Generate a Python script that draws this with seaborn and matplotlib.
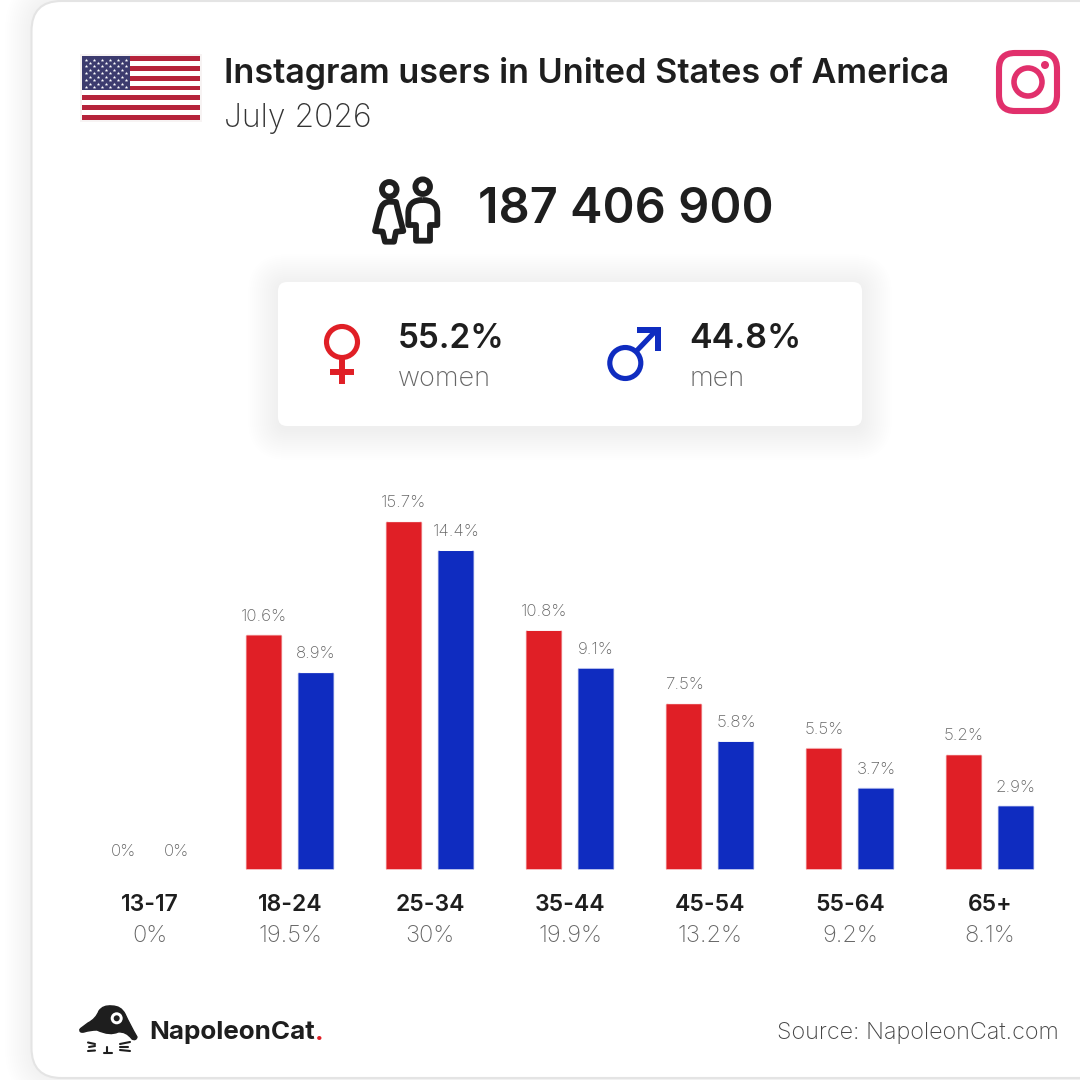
# Instagram users in the US, age and gender split
import matplotlib
matplotlib.use("Agg")
import pandas as pd
import seaborn as sns
import matplotlib.pyplot as plt
from matplotlib.patches import Circle, FancyBboxPatch, PathPatch, Polygon, Rectangle
from matplotlib.path import Path

# data
ages = ["13-17", "18-24", "25-34", "35-44", "45-54", "55-64", "65+"]
women = [0, 10.6, 15.7, 10.8, 7.5, 5.5, 5.2]
men = [0, 8.9, 14.4, 9.1, 5.8, 3.7, 2.9]
totals = ["0%", "19.5%", "30%", "19.9%", "13.2%", "9.2%", "8.1%"]
women_labels = ["0%", "10.6%", "15.7%", "10.8%", "7.5%", "5.5%", "5.2%"]
men_labels = ["0%", "8.9%", "14.4%", "9.1%", "5.8%", "3.7%", "2.9%"]
title = "Instagram users in United States of America"
date = "July 2026"
users = "187 406 900"
women_share = "55.2%"
men_share = "44.8%"

RED = "#e01f26"
BLUE = "#0f2cc0"
PINK = "#e1306c"
DARK = "#1e1e1e"
GREY = "#666666"
FONT = "Inter"

sns.set_theme(style="white")
plt.rcParams["font.family"] = [FONT, "DejaVu Sans"]

fig = plt.figure(figsize=(10.8, 10.8), dpi=100, facecolor="white")

# overlay in pixel coordinates for everything around the chart
ov = fig.add_axes([0, 0, 1, 1], zorder=0)
ov.set_xlim(0, 1080)
ov.set_ylim(1080, 0)
ov.axis("off")


def rbox(x0, y0, x1, y1, r, **kw):
    return FancyBboxPatch((x0 + r, y0 + r), x1 - x0 - 2 * r, y1 - y0 - 2 * r,
                          boxstyle="round,pad=%f,rounding_size=%f" % (r, r), **kw)


# outer card with a soft shadow on the left
for i in range(14):
    ov.add_patch(rbox(31 - i * 2, 1 - i * 2, 1300, 1078 + i * 2, 30 + i * 2,
                      fc="black", ec="none", alpha=0.0032, zorder=0))
ov.add_patch(rbox(31.5, 1, 1300, 1078, 30, fc="white", ec="#e4e4e4", lw=1.5, zorder=1))

# gender box with shadow
for i in range(16):
    ov.add_patch(rbox(278 - i * 2, 284 - i * 2, 862 + i * 2, 430 + i * 2, 10 + i * 2,
                      fc="black", ec="none", alpha=0.002, zorder=2))
ov.add_patch(rbox(278, 282, 862, 426, 9, fc="white", ec="none", zorder=3))

# flag
ov.add_patch(Rectangle((80, 54), 122, 68, fc="#f7f3f3", ec="none", zorder=3))
stripe = 64 / 13
for i in range(13):
    color = "#b5233b" if i % 2 == 0 else "white"
    ov.add_patch(Rectangle((82, 56 + i * stripe), 118, stripe, fc=color, ec="none", zorder=4))
ov.add_patch(Rectangle((82, 56), 48, stripe * 7, fc="#3c3b6e", ec="none", zorder=5))
for row in range(9):
    n = 6 if row % 2 == 0 else 5
    off = 86 if row % 2 == 0 else 90
    ov.scatter([off + c * 8 for c in range(n)], [59.5 + row * 3.45] * n, s=7,
               marker="*", c="white", linewidths=0, zorder=6)

# header text
ov.text(224, 74, title, fontsize=24.6, fontweight="semibold", color=DARK, va="center", ha="left", zorder=7)
ov.text(224, 118.5, date, fontsize=23, fontweight="light", color="#333333", va="center", ha="left", zorder=7)

# instagram icon
ov.add_patch(rbox(999, 53, 1057, 111, 16, fc="none", ec=PINK, lw=4.4, zorder=7))
ov.add_patch(Circle((1028, 82), 14, fc="none", ec=PINK, lw=4, zorder=7))
ov.add_patch(Circle((1045, 65), 4, fc=PINK, ec="none", zorder=7))

# people icon
ink = dict(fc="none", ec=DARK, lw=4.2, zorder=7, joinstyle="round")
ov.add_patch(Circle((389.3, 189.3), 7.3, **ink))
ov.add_patch(Circle((422.7, 186.7), 7.3, **ink))
m, c3, l2 = Path.MOVETO, Path.CURVE3, Path.LINETO
ov.add_patch(PathPatch(Path(
    [(389.3, 201.7), (382, 202), (380, 211), (375, 231), (382.7, 231.7), (385, 241.7), (394, 241.7),
     (396, 231.7), (403.3, 231), (398, 211), (396, 202), (389.3, 201.7)],
    [m, c3, c3, l2, l2, l2, l2, l2, l2, c3, c3, Path.CLOSEPOLY]), **ink))
ov.add_patch(PathPatch(Path(
    [(422.7, 200), (408.3, 200), (408.3, 213), (408.3, 225), (416, 225), (416, 240.7), (430, 240.7),
     (430, 225), (437.3, 225), (437.3, 213), (437.3, 200), (422.7, 200)],
    [m, c3, c3, l2, l2, l2, l2, l2, l2, l2, c3, c3]), **ink))
ov.text(478, 210, users, fontsize=35, fontweight="semibold", color=DARK, va="center", ha="left", zorder=7)

# gender symbols
ov.add_patch(Circle((342, 342), 15.5, fc="none", ec=RED, lw=3.7, zorder=7))
ov.plot([342, 342], [359, 384], color=RED, lw=4.3, solid_capstyle="butt", zorder=7)
ov.plot([330, 354], [371.7, 371.7], color=RED, lw=4.3, solid_capstyle="butt", zorder=7)
ov.add_patch(Circle((625.3, 363), 15.5, fc="none", ec=BLUE, lw=3.7, zorder=7))
ov.plot([636.5, 657], [351, 329.5], color=BLUE, lw=3.7, solid_capstyle="butt", zorder=7)
ov.add_patch(Polygon([(637.3, 326.7), (661.4, 326.7), (661.4, 350.7), (655.2, 350.7),
                      (655.2, 332.7), (637.3, 332.7)], fc=BLUE, ec="none", zorder=7))

ov.text(398, 338.5, women_share, fontsize=24, fontweight="semibold", color=DARK, va="center", ha="left", zorder=7)
ov.text(398, 379, "women", fontsize=19.5, fontweight="light", color=GREY, va="center", ha="left", zorder=7)
ov.text(689, 338.5, men_share, fontsize=24.5, fontweight="semibold", color=DARK, va="center", ha="left", zorder=7)
ov.text(690, 379, "men", fontsize=19.5, fontweight="light", color=GREY, va="center", ha="left", zorder=7)

# logo
cat = Path([(80, 1029), (88, 1023), (96, 1019), (99, 1011), (103, 1005), (112, 1006),
            (121, 1006), (125, 1014), (130, 1025), (137, 1037), (136, 1041), (132, 1039),
            (126, 1031), (118, 1032), (110, 1036), (97, 1030), (90, 1030), (84, 1032),
            (79, 1033), (80, 1029)],
           [m, l2] + [c3] * 18)
ov.add_patch(PathPatch(cat, fc=DARK, ec=DARK, lw=1, joinstyle="round", zorder=7))
ov.add_patch(Circle((116.7, 1018.3), 6, fc="white", ec="none", zorder=8))
ov.add_patch(Circle((116.7, 1018.3), 3, fc=DARK, ec="none", zorder=9))
for a, b in [((88, 1042.5), (95, 1044)), ((89, 1047), (95, 1046)), ((88, 1051), (95, 1050.5)),
             ((120, 1044), (130, 1042)), ((120, 1047), (128, 1047)), ((120, 1050), (130, 1051)),
             ((107.3, 1047), (107.3, 1052)), ((103.5, 1052.5), (111.5, 1052.5))]:
    ov.plot([a[0], b[0]], [a[1], b[1]], color=DARK, lw=1.5, solid_capstyle="round", zorder=7)
logo = ov.text(149.5, 1033, "NapoleonCat", fontsize=18.7, fontweight="bold", color=DARK, va="center", ha="left", zorder=7)
fig.canvas.draw()
end = logo.get_window_extent().x1
ov.text(end, 1033, ".", fontsize=18.7, fontweight="bold", color=RED, va="center", ha="left", zorder=7)
ov.text(1059, 1033.5, "Source: NapoleonCat.com", fontsize=16.8, fontweight="light", color="#444444",
        va="center", ha="right", zorder=7)

# bars
df = pd.DataFrame({
    "age": ages * 2,
    "share": women + men,
    "gender": ["women"] * len(ages) + ["men"] * len(ages),
})
px_per_unit = 22.2
ymax = 16
ax = fig.add_axes([80 / 1080, (1080 - 870) / 1080, 980 / 1080, ymax * px_per_unit / 1080], zorder=10)
sns.barplot(data=df, x="age", y="share", hue="gender", palette={"women": RED, "men": BLUE},
            width=0.743, gap=0.295, saturation=1, legend=False, ax=ax)
ax.set_xlim(-0.5, 6.5)
ax.set_ylim(0, ymax)
ax.patch.set_alpha(0)
sns.despine(ax=ax, left=True, bottom=True)
ax.set_yticks([])
ax.set_xlabel("")
ax.set_ylabel("")
ax.tick_params(axis="x", length=0, pad=17.5)
ax.grid(False)
for t in ax.get_xticklabels():
    t.set_fontsize(16.5)
    t.set_fontweight("semibold")
    t.set_color(DARK)

ax.bar_label(ax.containers[0], labels=women_labels, padding=8, fontsize=12.2, fontweight="light", color=GREY)
ax.bar_label(ax.containers[1], labels=men_labels, padding=8, fontsize=12.2, fontweight="light", color=GREY)

for i, t in enumerate(totals):
    ax.text(i, -66 / px_per_unit, t, fontsize=17, fontweight="light", color=GREY,
            ha="center", va="center", clip_on=False)

# small rounded corners on the seaborn bars
for bar in ax.patches:
    if bar.get_height() == 0:
        continue
    bar.set_snap(False)
    box = bar.get_window_extent()
    clip = rbox(box.x0 - 0.4, 1080 - box.y1 - 0.4, box.x1 + 0.4, 1080 - box.y0 + 0.4, 4, transform=ov.transData)
    bar.set_clip_path(clip)

fig.savefig("out.png", dpi=100, facecolor="white")
